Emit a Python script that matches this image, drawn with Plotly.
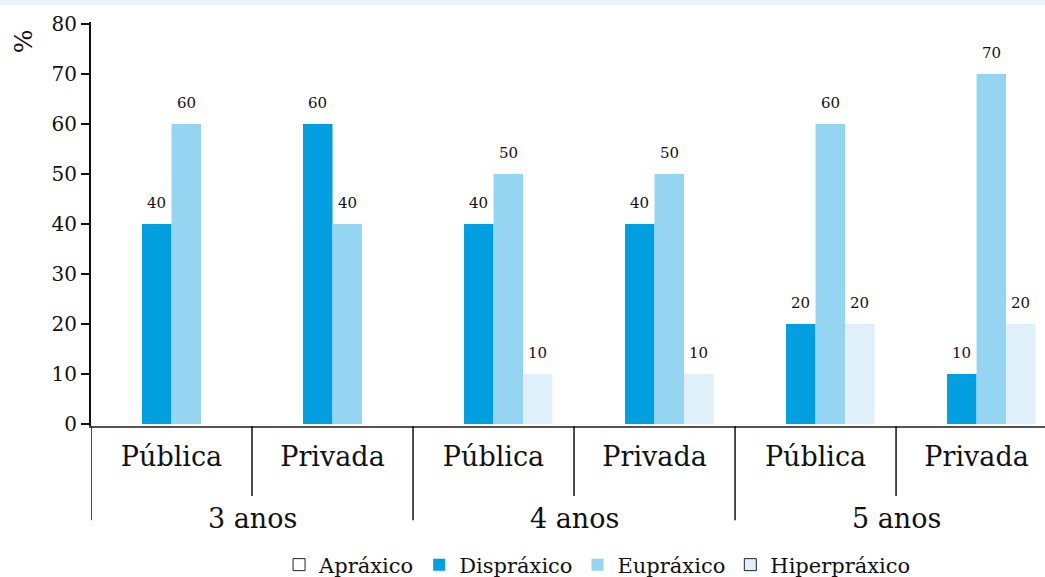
import plotly.graph_objects as go

groups = ["3 anos", "4 anos", "5 anos"]
schools = ["Pública", "Privada", "Pública", "Privada", "Pública", "Privada"]
series_names = ["Apráxico", "Dispráxico", "Eupráxico", "Hiperpráxico"]
apraxico = [0, 0, 0, 0, 0, 0]
dispraxico = [40, 60, 40, 40, 20, 10]
eupraxico = [60, 40, 50, 50, 60, 70]
hiperpraxico = [0, 0, 10, 10, 20, 20]
y_ticks = [0, 10, 20, 30, 40, 50, 60, 70, 80]

colors = ["#FFFFFF", "#009FE0", "#96D5F2", "#DFF0FA"]
values = [apraxico, dispraxico, eupraxico, hiperpraxico]
outlined = {"Apráxico", "Hiperpráxico"}

FONT = "DejaVu Serif"
BARGAP = 0.267
xs = list(range(len(schools)))

fig = go.Figure()
for name, vals, col in zip(series_names, values, colors):
    fig.add_trace(go.Bar(
        x=xs, y=vals, name=name, marker=dict(color=col, line=dict(width=0)),
        offsetgroup=name, showlegend=(name not in outlined), legendrank=series_names.index(name),
    ))
# legend entries with outlined swatches
for name, col in zip(series_names, colors):
    if name in outlined:
        fig.add_trace(go.Bar(x=[None], y=[None], name=name, offsetgroup=name,
                             legendrank=series_names.index(name),
                             marker=dict(color=col, line=dict(width=1, color="#222"))))

# value labels above bars
n = len(series_names)
w = (1 - BARGAP) / n
for k, vals in enumerate(values):
    off = -(1 - BARGAP) / 2 + w * (k + 0.5)
    for i, v in enumerate(vals):
        if v > 0:
            fig.add_annotation(x=i + off, y=v, xref="x", yref="y", text=str(v),
                               showarrow=False, yanchor="middle", yshift=21,
                               font=dict(family=FONT, size=15, color="#111"))

# outer group labels
for g, name in enumerate(groups):
    fig.add_annotation(x=2 * g + 0.5, y=-0.228, xref="x", yref="paper", text=name,
                       showarrow=False, yanchor="middle",
                       font=dict(family=FONT, size=27, color="#111"))

# separators
for g in range(len(groups)):
    fig.add_shape(type="line", xref="x", yref="paper", x0=2 * g - 0.5, x1=2 * g - 0.5,
                  y0=0, y1=-0.233, line=dict(color="#111", width=1.5))
    fig.add_shape(type="line", xref="x", yref="paper", x0=2 * g + 0.5, x1=2 * g + 0.5,
                  y0=0, y1=-0.173, line=dict(color="#111", width=1.5))

# top light band
fig.add_shape(type="rect", xref="paper", yref="paper", x0=-0.1, x1=1.01,
              y0=1.042, y1=1.06, fillcolor="#E8F3FB", line=dict(width=0), layer="below")

# % title
fig.add_annotation(x=-0.070, y=0.953, xref="paper", yref="paper", text="%", textangle=-90,
                   xanchor="center", yanchor="middle",
                   showarrow=False, font=dict(family=FONT, size=25, color="#111"))

fig.update_layout(
    width=1045, height=577,
    margin=dict(l=91, r=0, t=22, b=151, autoexpand=False),
    paper_bgcolor="white", plot_bgcolor="white",
    barmode="group", bargap=BARGAP, bargroupgap=0,
    font=dict(family=FONT, color="#111"),
    legend=dict(orientation="h", x=0.531, xanchor="center", y=-0.344, yanchor="middle",
                font=dict(family=FONT, size=21, color="#111"), traceorder="normal",
                itemwidth=30),
    xaxis=dict(range=[-0.5, 5.425], tickmode="array", tickvals=xs, ticktext=schools,
               showgrid=False, zeroline=False, showline=True, linecolor="#555", linewidth=1.5,
               ticks="", ticklabelstandoff=6, tickfont=dict(family=FONT, size=27, color="#111")),
    yaxis=dict(range=[-0.4, 80.4], tickmode="array", tickvals=y_ticks, showgrid=False,
               zeroline=False, showline=True, linecolor="#111", linewidth=2,
               ticks="outside", ticklen=8, tickwidth=2, tickcolor="#111",
               tickfont=dict(family=FONT, size=20, color="#111")),
)

fig.write_html("out.html", config={"displayModeBar": False},
               post_script="document.body.style.margin='0';")
